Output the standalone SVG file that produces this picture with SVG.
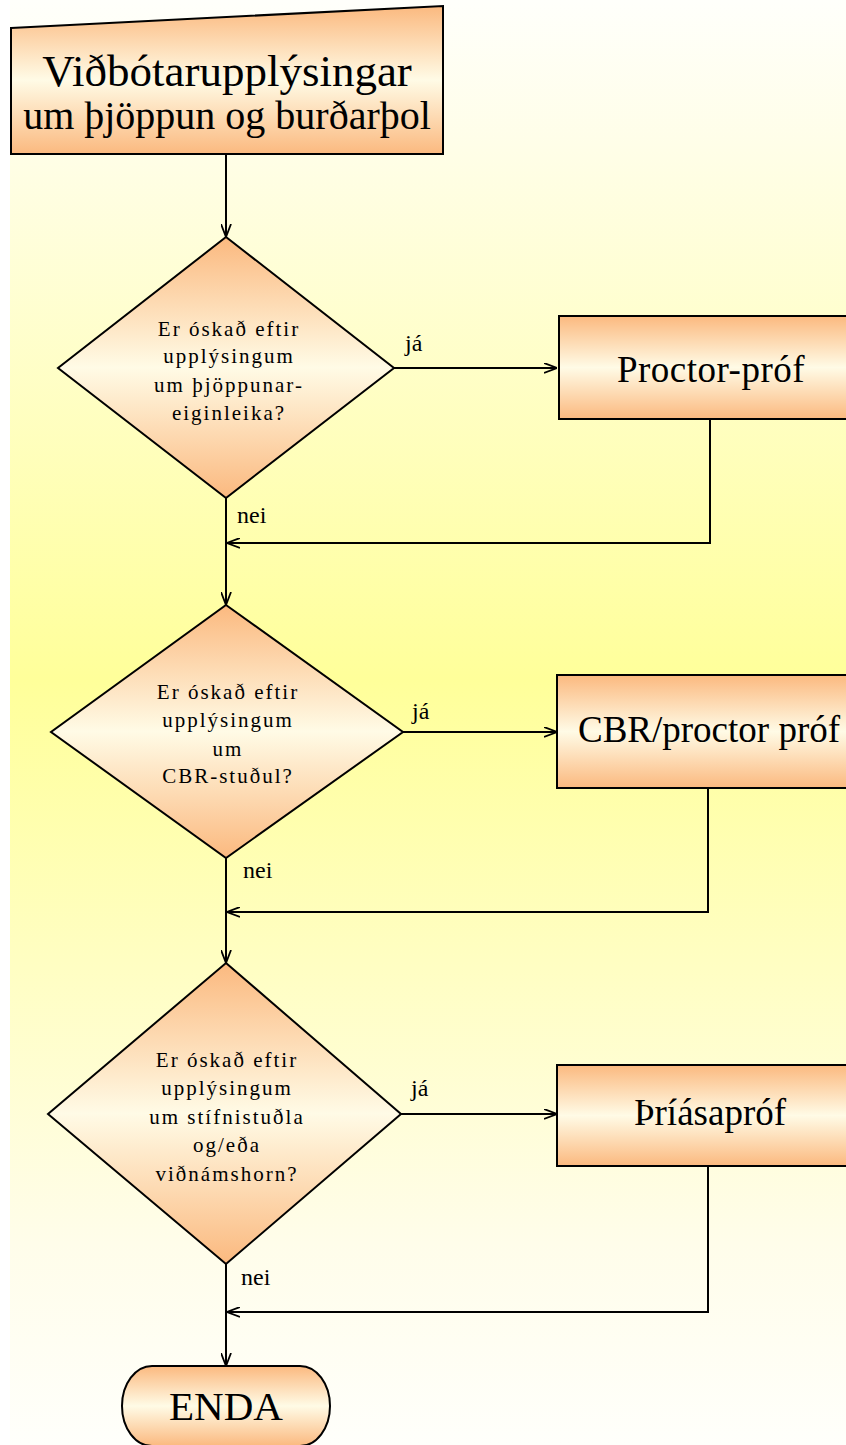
<svg xmlns="http://www.w3.org/2000/svg" width="846" height="1445" viewBox="0 0 846 1445">
  <defs>
    <linearGradient id="bg" x1="0" y1="0" x2="0" y2="1">
      <stop offset="0" stop-color="#fffffb"/>
      <stop offset="0.1" stop-color="#fffee8"/>
      <stop offset="0.47" stop-color="#ffff9a"/>
      <stop offset="0.86" stop-color="#fffdea"/>
      <stop offset="1" stop-color="#fffffb"/>
    </linearGradient>
    <linearGradient id="og" x1="0" y1="0" x2="0" y2="1">
      <stop offset="0" stop-color="#fbb97f"/>
      <stop offset="0.5" stop-color="#fffbe6"/>
      <stop offset="1" stop-color="#fbb97f"/>
    </linearGradient>
    <marker id="arr" viewBox="0 0 13 11" refX="13" refY="5.5" markerWidth="13" markerHeight="11" markerUnits="userSpaceOnUse" orient="auto">
      <path d="M0,0.5 L13,5.5 L0,10.5" fill="none" stroke="#000" stroke-width="1.8"/>
    </marker>
    <style>
      .shape { fill: url(#og); stroke: #000; stroke-width: 2; }
      .t { font-family: "Liberation Serif", "Times New Roman", serif; fill: #000; text-anchor: middle; }
      .dt { font-size: 21px; letter-spacing: 2px; }
      .pt { font-size: 37px; }
      .lbl { font-family: "Liberation Serif", "Times New Roman", serif; font-size: 24px; fill: #000; }
      .c { fill: none; stroke: #000; stroke-width: 2; }
    </style>
  </defs>

  <rect x="0" y="0" width="846" height="1445" fill="#ffffff"/>
  <rect x="10" y="0" width="836" height="1445" fill="url(#bg)"/>

  <g id="connectors">
    <path class="c" d="M226,154 L226,237" marker-end="url(#arr)"/>
    <path class="c" d="M394,368 L557,368" marker-end="url(#arr)"/>
    <path class="c" d="M710,419 L710,543 L227,543" marker-end="url(#arr)"/>
    <path class="c" d="M226,498 L226,605" marker-end="url(#arr)"/>
    <path class="c" d="M403,732 L557,732" marker-end="url(#arr)"/>
    <path class="c" d="M708,788 L708,912 L227,912" marker-end="url(#arr)"/>
    <path class="c" d="M226,858 L226,963" marker-end="url(#arr)"/>
    <path class="c" d="M401,1114 L557,1114" marker-end="url(#arr)"/>
    <path class="c" d="M708,1166 L708,1312 L227,1312" marker-end="url(#arr)"/>
    <path class="c" d="M226,1264 L226,1366" marker-end="url(#arr)"/>
    <text class="lbl" x="405" y="351">já</text>
    <text class="lbl" x="237" y="523">nei</text>
    <text class="lbl" x="412" y="719">já</text>
    <text class="lbl" x="243" y="878">nei</text>
    <text class="lbl" x="411" y="1096">já</text>
    <text class="lbl" x="241" y="1285">nei</text>
  </g>

  <g id="start">
    <path class="shape" d="M11,28 L443,6 L443,154 L11,154 Z"/>
    <text class="t" x="227" y="86" font-size="45">Viðbótarupplýsingar</text>
    <text class="t" x="227" y="129" font-size="40">um þjöppun og burðarþol</text>
  </g>

  <g id="decision1">
    <path class="shape" d="M226,237 L394,368 L226,498 L58,368 Z"/>
    <text class="t dt" x="229" y="336">Er óskað eftir</text>
    <text class="t dt" x="229" y="363">upplýsingum</text>
    <text class="t dt" x="229" y="392">um þjöppunar-</text>
    <text class="t dt" x="229" y="420">eiginleika?</text>
  </g>

  <g id="proctor">
    <rect class="shape" x="559" y="316" width="302" height="103"/>
    <text class="t pt" x="711" y="382" letter-spacing="0.5">Proctor-próf</text>
  </g>

  <g id="decision2">
    <path class="shape" d="M226,605 L403,732 L226,858 L51,732 Z"/>
    <text class="t dt" x="228" y="699">Er óskað eftir</text>
    <text class="t dt" x="228" y="727">upplýsingum</text>
    <text class="t dt" x="228" y="756">um</text>
    <text class="t dt" x="228" y="783">CBR-stuðul?</text>
  </g>

  <g id="cbr">
    <rect class="shape" x="557" y="675" width="304" height="113"/>
    <text class="t pt" x="709" y="742">CBR/proctor próf</text>
  </g>

  <g id="decision3">
    <path class="shape" d="M226,963 L401,1114 L226,1264 L48,1114 Z"/>
    <text class="t dt" x="227" y="1067">Er óskað eftir</text>
    <text class="t dt" x="227" y="1095">upplýsingum</text>
    <text class="t dt" x="227" y="1124">um stífnistuðla</text>
    <text class="t dt" x="227" y="1152">og/eða</text>
    <text class="t dt" x="227" y="1181">viðnámshorn?</text>
  </g>

  <g id="triax">
    <rect class="shape" x="557" y="1065" width="304" height="101"/>
    <text class="t pt" x="710" y="1125">Þríásapróf</text>
  </g>

  <g id="end">
    <rect class="shape" x="122" y="1366" width="208" height="80" rx="30" ry="40"/>
    <text class="t" x="226" y="1420" font-size="41">ENDA</text>
  </g>
</svg>
